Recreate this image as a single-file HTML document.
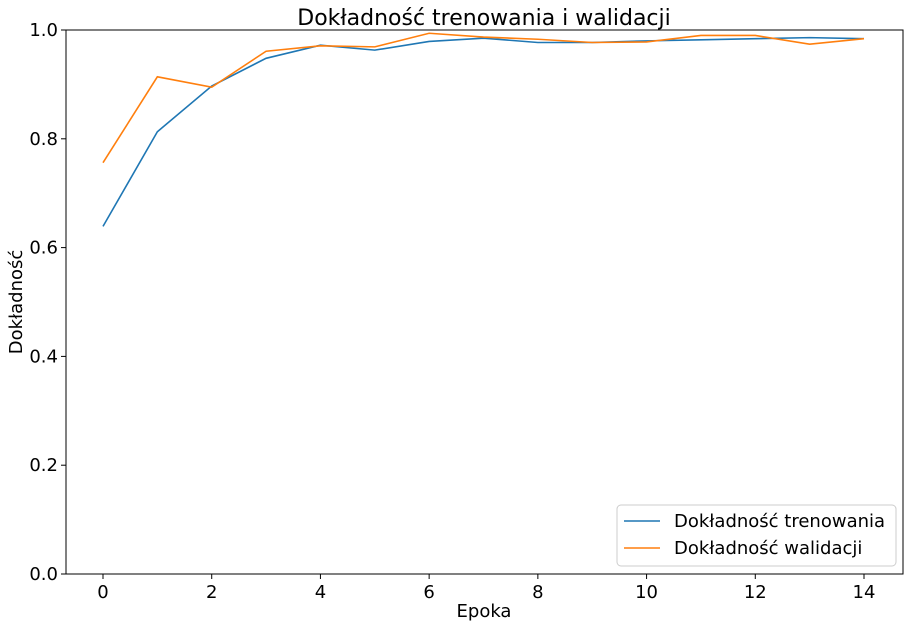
<!DOCTYPE html>
<html><head><meta charset="utf-8"><style>
body{margin:0;background:#fff;}
svg text{font-family:"DejaVu Sans","Liberation Sans",sans-serif;fill:#000;}
</style></head><body>
<svg width="908" height="628" xmlns="http://www.w3.org/2000/svg">
<g id="root"></g>
</svg>
<script>
const epochs=[0,1,2,3,4,5,6,7,8,9,10,11,12,13,14];
const trainAcc=[0.639,0.813,0.897,0.948,0.972,0.963,0.979,0.985,0.977,0.977,0.980,0.982,0.984,0.986,0.984];
const valAcc=[0.756,0.914,0.895,0.961,0.971,0.969,0.994,0.987,0.983,0.977,0.978,0.990,0.990,0.974,0.984];
const xTicks=[0,2,4,6,8,10,12,14];
const yTicks=[0.0,0.2,0.4,0.6,0.8,1.0];
const L=66,R=903,T=30,B=574;
const x0=103,x14=864;
function sx(v){return x0+(x14-x0)*v/14;}
function sy(v){return B-(B-T)*v;}
const ns="http://www.w3.org/2000/svg";
const root=document.getElementById('root');
function mk(tag,attrs,parent){const e=document.createElementNS(ns,tag);for(const k in attrs)e.setAttribute(k,attrs[k]);(parent||root).appendChild(e);return e;}
let t=mk('text',{x:484,y:25,'font-size':22,'text-anchor':'middle'});t.textContent='Dokładność trenowania i walidacji';


xTicks.forEach(v=>{
 const l=mk('line',{x1:sx(v),x2:sx(v),y1:B,y2:B+5,stroke:'#000','stroke-width':1});
 
 
 const tx=mk('text',{x:sx(v),y:B+24,'font-size':18,'text-anchor':'middle'});tx.textContent=v;
 
 
});
yTicks.forEach(v=>{
 const l=mk('line',{x1:L-5,x2:L,y1:sy(v),y2:sy(v),stroke:'#000','stroke-width':1});
 
 
 const tx=mk('text',{x:L-8,y:sy(v)+6,'font-size':18,'text-anchor':'end'});tx.textContent=v.toFixed(1);
 
 
});
let xl=mk('text',{x:484,y:617,'font-size':18,'text-anchor':'middle'});xl.textContent='Epoka';


let yl=mk('text',{x:22,y:302,'font-size':18,'text-anchor':'middle',transform:'rotate(-90 22 302)'});yl.textContent='Dokładność';


function series(data,color,name){
 const p=mk('polyline',{points:data.map((v,i)=>sx(epochs[i])+','+sy(v)).join(' '),fill:'none',stroke:color,'stroke-width':1.6});
 
 
}
series(trainAcc,'#1f77b4','train-accuracy-line');
series(valAcc,'#ff7f0e','validation-accuracy-line');
const fr=mk('rect',{x:L,y:T,width:R-L,height:B-T,fill:'none',stroke:'#000','stroke-width':1});


const lg=mk('g',{});


mk('rect',{x:617,y:505,width:279,height:61,rx:4,fill:'#fff',stroke:'#ccc'},lg);
[['Dokładność trenowania','#1f77b4'],['Dokładność walidacji','#ff7f0e']].forEach((d,i)=>{
 const y=521+i*27;
 const ln=mk('line',{x1:624,x2:660,y1:y,y2:y,stroke:d[1],'stroke-width':1.6},lg);
 
 
 const tx=mk('text',{x:674,y:y+6,'font-size':18},lg);tx.textContent=d[0];
 
 
});
</script>
</body></html>
